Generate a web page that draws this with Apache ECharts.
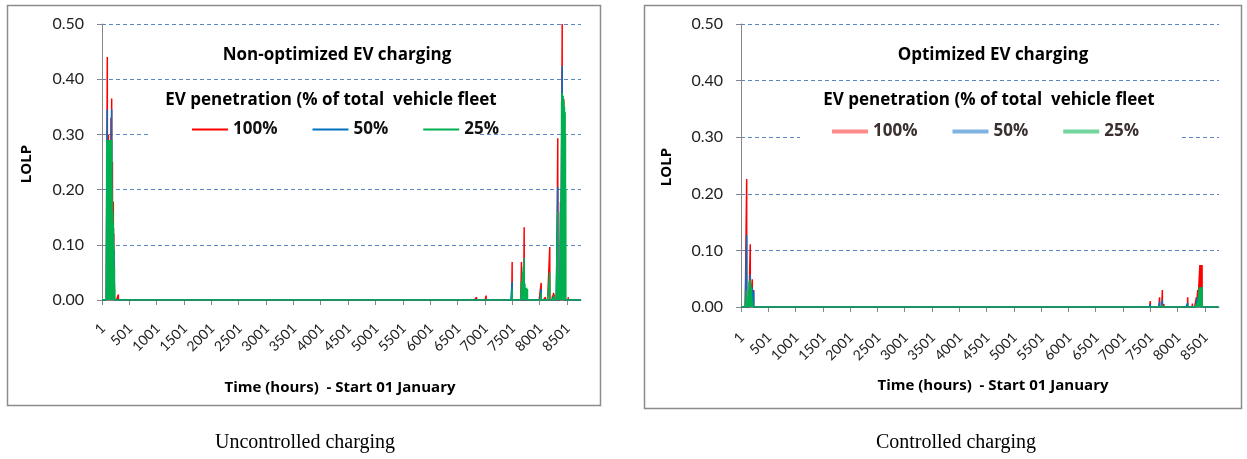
<!DOCTYPE html>
<html>
<head>
<meta charset="utf-8">
<script src="https://cdn.jsdelivr.net/npm/echarts@6/dist/echarts.min.js"></script>
<style>
  html, body { margin: 0; padding: 0; background: #ffffff; }
  #chart { width: 1247px; height: 459px; }
</style>
</head>
<body>
<div id="chart"></div>
<script>
// Hours in the simulated year and the labelled hours on the time axis
const HOURS_IN_YEAR = 8760;
const hourLabels = ['1', '501', '1001', '1501', '2001', '2501', '3001', '3501', '4001',
  '4501', '5001', '5501', '6001', '6501', '7001', '7501', '8001', '8501'];
const lolpTicks = [0, 0.1, 0.2, 0.3, 0.4, 0.5];
const seriesNames = ['100%', '50%', '25%'];

// LOLP per hour, uncontrolled (non-optimized) charging: [hour, LOLP]; all other hours are 0
const uncontrolled100 = [
  [98, 0.44], [120, 0.30], [135, 0.23], [150, 0.26], [165, 0.33], [178, 0.365], [192, 0.25],
  [208, 0.178], [216, 0.12], [226, 0.07], [300, 0.01],
  [6850, 0.005], [7025, 0.008],
  [7501, 0.069], [7671, 0.069], [7721, 0.132], [8032, 0.031], [8110, 0.005], [8189, 0.096],
  [8240, 0.008], [8258, 0.013], [8275, 0.01], [8335, 0.293], [8385, 0.178], [8395, 0.07],
  [8416, 0.50], [8445, 0.364], [8526, 0.005]
];
const uncontrolled50 = [
  [98, 0.345], [120, 0.15], [140, 0.13], [178, 0.345], [212, 0.13], [222, 0.09],
  [7501, 0.033], [8032, 0.02], [8335, 0.205], [8385, 0.16], [8416, 0.424], [8445, 0.344],
  [8460, 0.30]
];
const uncontrolled25 = [
  [88, 0.29], [92, 0.25], [96, 0.29], [100, 0.27], [104, 0.29], [108, 0.22], [112, 0.29],
  [116, 0.26], [120, 0.29], [124, 0.20], [128, 0.29], [132, 0.24], [136, 0.29], [140, 0.21],
  [144, 0.29], [148, 0.25], [152, 0.29], [156, 0.22], [160, 0.29], [164, 0.27], [168, 0.29],
  [172, 0.25], [176, 0.29], [180, 0.29], [184, 0.20], [188, 0.15], [192, 0.18], [196, 0.12],
  [200, 0.16], [204, 0.10], [208, 0.14], [212, 0.08], [216, 0.10], [220, 0.06], [224, 0.05],
  [228, 0.06], [232, 0.03], [236, 0.02],
  [7501, 0.02], [7671, 0.033], [7690, 0.051], [7705, 0.06], [7721, 0.076], [7735, 0.03],
  [7750, 0.022], [7765, 0.022], [7781, 0.02], [8032, 0.013], [8189, 0.05], [8250, 0.005],
  [8265, 0.008], [8335, 0.16], [8345, 0.05], [8355, 0.035], [8365, 0.035], [8375, 0.035],
  [8395, 0.20], [8405, 0.36], [8410, 0.375], [8416, 0.375], [8422, 0.37], [8428, 0.36],
  [8434, 0.37], [8440, 0.35], [8446, 0.36], [8452, 0.33], [8458, 0.35], [8464, 0.32],
  [8470, 0.34], [8476, 0.30], [8482, 0.20]
];

// LOLP per hour, controlled (optimized) charging
const controlled100 = [
  [105, 0.226], [171, 0.111], [208, 0.049], [233, 0.03],
  [7501, 0.0106], [7672, 0.017], [7722, 0.03], [7751, 0.005], [8187, 0.017], [8273, 0.006],
  [8346, 0.017], [8370, 0.03], [8410, 0.074], [8420, 0.074], [8430, 0.074], [8440, 0.074],
  [8450, 0.074]
];
const controlled50 = [
  [105, 0.127], [150, 0.03], [171, 0.057], [190, 0.02], [208, 0.035], [233, 0.028],
  [7501, 0.005], [7672, 0.009], [7722, 0.013], [8187, 0.007], [8346, 0.012], [8370, 0.018],
  [8395, 0.01], [8410, 0.035], [8425, 0.035]
];
const controlled25 = [
  [100, 0.03], [110, 0.02], [140, 0.01], [150, 0.045], [160, 0.045], [171, 0.048],
  [180, 0.04], [190, 0.035], [200, 0.02], [215, 0.01],
  [7722, 0.004], [8346, 0.004], [8370, 0.008], [8400, 0.035], [8410, 0.035], [8420, 0.035],
  [8430, 0.035], [8440, 0.035], [8450, 0.035]
];

const FONT = 'Lato, "Open Sans", sans-serif';
const TITLE_FONT = '"Open Sans", Lato, sans-serif';
const colors = { '100%': '#ff0000', '50%': '#0070c0', '25%': '#00b050' };
const paleColors = { '100%': '#ff8a8a', '50%': '#7fb4e2', '25%': '#72d69c' };

// Expand the listed hours into a full hourly series (unlisted hours have zero LOLP)
function toHourly(points) {
  const values = new Array(HOURS_IN_YEAR).fill(0);
  points.forEach(([h, v]) => { values[h - 1] = v; });
  return values;
}

const hourCategories = Array.from({ length: HOURS_IN_YEAR }, (_, i) => String(i + 1));
const showHour = (index, value) => hourLabels.includes(value);

function xAxisFor(gridIndex) {
  return {
    gridIndex, type: 'category', data: hourCategories, boundaryGap: false,
    axisLine: { lineStyle: { color: '#868686', width: 1 } },
    axisTick: { show: true, interval: showHour, length: 5, lineStyle: { color: '#868686' } },
    // the slanted hour labels are added as text once the axis scale is known
    axisLabel: { show: false },
    splitLine: { show: false }
  };
}
function yAxisFor(gridIndex) {
  return {
    gridIndex, type: 'value', min: lolpTicks[0], max: lolpTicks[lolpTicks.length - 1], interval: 0.1,
    axisLine: { show: true, lineStyle: { color: '#868686', width: 1 } },
    axisTick: { show: true, length: 5, lineStyle: { color: '#868686' } },
    axisLabel: { margin: 18, fontFamily: FONT, fontSize: 16, color: '#222', formatter: v => v.toFixed(2) },
    splitLine: { show: true, lineStyle: { color: '#5b87c4', width: 1, type: [4, 3] } }
  };
}
function lineSeries(name, points, gridIndex) {
  return {
    name, type: 'line', xAxisIndex: gridIndex, yAxisIndex: gridIndex,
    data: toHourly(points), showSymbol: false, symbol: 'none',
    lineStyle: { color: colors[name], width: 1.5 }, itemStyle: { color: colors[name] },
    emphasis: { disabled: true }, animation: false
  };
}
function text(x, y, str, font, extra) {
  return Object.assign({
    type: 'text', x, y, z: 30,
    style: { text: str, font, fill: '#000', textAlign: 'center', textVerticalAlign: 'middle' }
  }, extra || {});
}

const baseGraphics = [
  // chart frames
  { type: 'rect', z: 1, shape: { x: 7.5, y: 5.5, width: 593, height: 400 },
    style: { fill: 'none', stroke: '#8c8c8c', lineWidth: 1.5 } },
  { type: 'rect', z: 1, shape: { x: 644.5, y: 5.5, width: 597, height: 403 },
    style: { fill: 'none', stroke: '#8c8c8c', lineWidth: 1.5 } },
  // legend boxes sit on a white panel over the gridlines
  { type: 'rect', z: 20, shape: { x: 150, y: 88, width: 330, height: 54 }, style: { fill: '#ffffff' } },
  { type: 'rect', z: 20, shape: { x: 800, y: 90, width: 380, height: 56 }, style: { fill: '#ffffff' } },
  text(337, 55, 'Non-optimized EV charging', 'bold 17px ' + TITLE_FONT),
  text(331, 100, 'EV penetration (% of total  vehicle fleet', 'bold 17px ' + TITLE_FONT),
  text(993, 55, 'Optimized EV charging', 'bold 17px ' + TITLE_FONT),
  text(989, 100, 'EV penetration (% of total  vehicle fleet', 'bold 17px ' + TITLE_FONT),
  text(340, 388, 'Time (hours)  - Start 01 January', 'bold 15px ' + TITLE_FONT),
  text(993, 386, 'Time (hours)  - Start 01 January', 'bold 15px ' + TITLE_FONT),
  text(27, 164, 'LOLP', 'bold 15px ' + TITLE_FONT, { rotation: Math.PI / 2 }),
  text(667, 167, 'LOLP', 'bold 15px ' + TITLE_FONT, { rotation: Math.PI / 2 }),
  text(305, 443, 'Uncontrolled charging', '20px "Liberation Serif", "Times New Roman", serif'),
  text(956, 443, 'Controlled charging', '20px "Liberation Serif", "Times New Roman", serif')
];

const chart = echarts.init(document.getElementById('chart'), null, { renderer: 'canvas' });
chart.setOption({
  animation: false,
  backgroundColor: '#ffffff',
  grid: [
    { left: 102, top: 24, width: 479, height: 276 },
    { left: 741, top: 24, width: 478, height: 283 }
  ],
  xAxis: [xAxisFor(0), xAxisFor(1)],
  yAxis: [yAxisFor(0), yAxisFor(1)],
  legend: [
    {
      data: seriesNames, left: 187, top: 116, icon: 'rect', itemWidth: 36, itemHeight: 2,
      itemGap: 35, selectedMode: false, z: 40,
      textStyle: { fontFamily: TITLE_FONT, fontSize: 17, fontWeight: 'bold', color: '#111' }
    },
    {
      data: seriesNames.map(n => ({ name: n, itemStyle: { color: paleColors[n] } })),
      left: 827, top: 118, icon: 'rect', itemWidth: 36, itemHeight: 4,
      itemGap: 35, selectedMode: false, z: 40,
      textStyle: { fontFamily: TITLE_FONT, fontSize: 17, fontWeight: 'bold', color: '#3a3030' }
    }
  ],
  series: [
    lineSeries('100%', uncontrolled100, 0),
    lineSeries('50%', uncontrolled50, 0),
    lineSeries('25%', uncontrolled25, 0),
    lineSeries('100%', controlled100, 1),
    lineSeries('50%', controlled50, 1),
    lineSeries('25%', controlled25, 1)
  ],
  graphic: baseGraphics
});

// Slanted hour labels, anchored at the category axis positions of each grid
const labelDrop = [26, 28];
const hourTexts = [];
[0, 1].forEach(g => {
  hourLabels.forEach(lab => {
    const [px, py] = chart.convertToPixel({ xAxisIndex: g, yAxisIndex: g }, [Number(lab) - 1, 0]);
    hourTexts.push({
      type: 'text', x: px + 1, y: py + labelDrop[g], rotation: Math.PI / 4, z: 30,
      style: { text: lab, font: '14px ' + FONT, fill: '#222', textAlign: 'right', textVerticalAlign: 'middle' }
    });
  });
});
chart.setOption({ graphic: baseGraphics.concat(hourTexts) });
</script>
</body>
</html>
